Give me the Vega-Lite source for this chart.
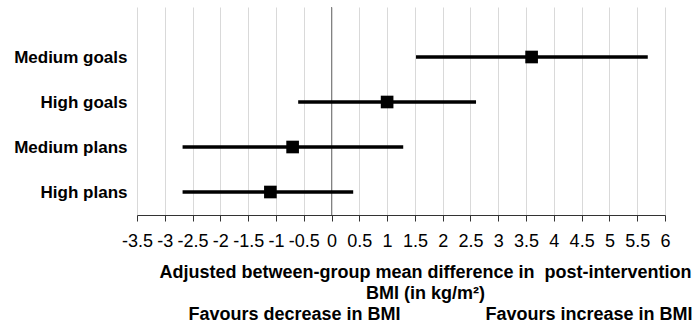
{
  "$schema": "https://vega.github.io/schema/vega-lite/v6.json",
  "width": 528,
  "height": 208,
  "autosize": "none",
  "padding": {"left": 137, "top": 7, "right": 32, "bottom": 118},
  "background": "white",
  "config": {
    "view": {"stroke": null},
    "font": "Liberation Sans",
    "axisX": {
      "grid": true,
      "gridColor": "#d9d9d9",
      "gridWidth": 1,
      "domainColor": "#333333",
      "tickColor": "#333333",
      "tickSize": 6,
      "labelFontSize": 18,
      "labelColor": "#000000",
      "labelOverlap": false,
      "labelPadding": 11,
      "labelFlush": false,
      "titleFontSize": 18,
      "titleFontWeight": "bold",
      "titleColor": "#000000",
      "titleLineHeight": 21,
      "titlePadding": 13,
      "titleX": 288
    },
    "axisY": {
      "grid": false,
      "domain": false,
      "ticks": false,
      "labelFontSize": 17,
      "labelFontWeight": "bold",
      "labelColor": "#000000",
      "labelPadding": 10
    }
  },
  "datasets": {
    "effects": [
      {"group": "Medium goals", "est": 3.6, "lo": 1.52, "hi": 5.69},
      {"group": "High goals", "est": 1.0, "lo": -0.6, "hi": 2.6},
      {"group": "Medium plans", "est": -0.7, "lo": -2.68, "hi": 1.29},
      {"group": "High plans", "est": -1.1, "lo": -2.68, "hi": 0.39}
    ],
    "zero": [{"ref": 0}]
  },
  "layer": [
    {
      "data": {"name": "zero"},
      "mark": {"type": "rule", "color": "#808080", "strokeWidth": 1},
      "encoding": {
        "x": {
          "field": "ref",
          "type": "quantitative",
          "scale": {"domain": [-3.5, 6], "nice": false, "zero": false},
          "axis": {"values": [-3.5, -3, -2.5, -2, -1.5, -1, -0.5, 0, 0.5, 1, 1.5, 2, 2.5, 3, 3.5, 4, 4.5, 5, 5.5, 6], "labelExpr": "'' + datum.value"},
          "title": ["Adjusted between-group mean difference in \u00a0post-intervention", "BMI (in kg/m²)", "\u200b\u00a0\u00a0\u00a0\u00a0\u00a0\u00a0Favours decrease in BMI\u00a0\u00a0\u00a0\u00a0\u00a0\u00a0\u00a0\u00a0\u00a0\u00a0\u00a0\u00a0\u00a0\u00a0\u00a0\u00a0\u00a0Favours increase in BMI"]
        }
      }
    },
    {
      "data": {"name": "effects"},
      "mark": {"type": "rule", "color": "#000000", "strokeWidth": 3.3},
      "encoding": {
        "y": {
          "field": "group",
          "type": "nominal",
          "sort": ["Medium goals", "High goals", "Medium plans", "High plans"],
          "scale": {"type": "point", "padding": 0.811, "align": 0.685},
          "title": null
        },
        "x": {
          "field": "lo",
          "type": "quantitative",
          "axis": {"values": [-3.5, -3, -2.5, -2, -1.5, -1, -0.5, 0, 0.5, 1, 1.5, 2, 2.5, 3, 3.5, 4, 4.5, 5, 5.5, 6], "labelExpr": "'' + datum.value"},
          "title": ["Adjusted between-group mean difference in \u00a0post-intervention", "BMI (in kg/m²)", "\u200b\u00a0\u00a0\u00a0\u00a0\u00a0\u00a0Favours decrease in BMI\u00a0\u00a0\u00a0\u00a0\u00a0\u00a0\u00a0\u00a0\u00a0\u00a0\u00a0\u00a0\u00a0\u00a0\u00a0\u00a0\u00a0Favours increase in BMI"]
        },
        "x2": {"field": "hi"}
      }
    },
    {
      "data": {"name": "effects"},
      "mark": {"type": "square", "color": "#000000", "filled": true, "size": 160, "opacity": 1},
      "encoding": {
        "y": {
          "field": "group",
          "type": "nominal",
          "sort": ["Medium goals", "High goals", "Medium plans", "High plans"],
          "title": null
        },
        "x": {
          "field": "est",
          "type": "quantitative",
          "axis": {"values": [-3.5, -3, -2.5, -2, -1.5, -1, -0.5, 0, 0.5, 1, 1.5, 2, 2.5, 3, 3.5, 4, 4.5, 5, 5.5, 6], "labelExpr": "'' + datum.value"},
          "title": ["Adjusted between-group mean difference in \u00a0post-intervention", "BMI (in kg/m²)", "\u200b\u00a0\u00a0\u00a0\u00a0\u00a0\u00a0Favours decrease in BMI\u00a0\u00a0\u00a0\u00a0\u00a0\u00a0\u00a0\u00a0\u00a0\u00a0\u00a0\u00a0\u00a0\u00a0\u00a0\u00a0\u00a0Favours increase in BMI"]
        }
      }
    }
  ]
}
